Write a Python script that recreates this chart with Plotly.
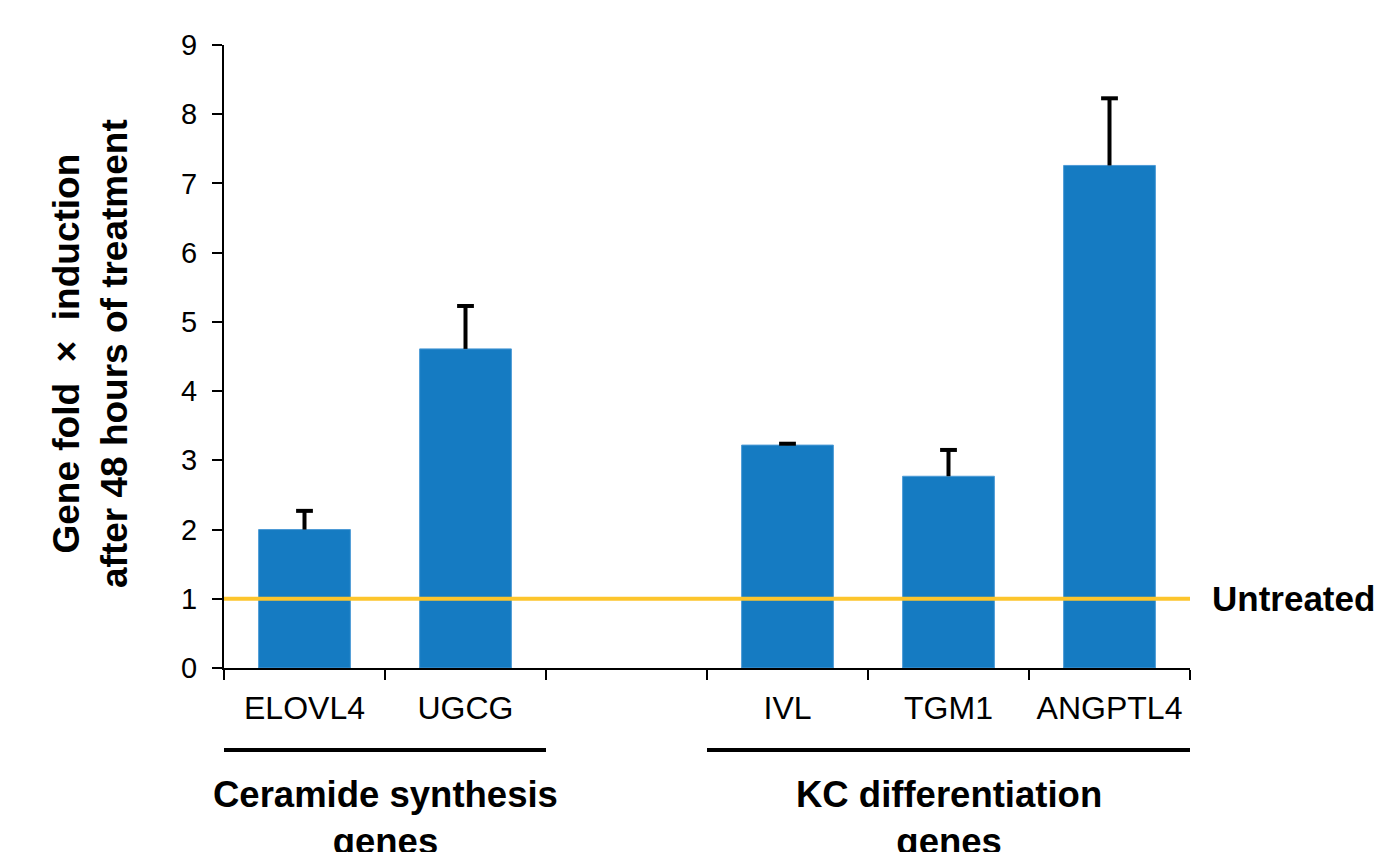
import plotly.graph_objects as go

categories = ["ELOVL4", "UGCG", " ", "IVL", "TGM1", "ANGPTL4"]
fold_values = [2.00, 4.61, None, 3.22, 2.77, 7.26]
error_plus = [0.27, 0.62, None, 0.02, 0.38, 0.97]
y_ticks = [0, 1, 2, 3, 4, 5, 6, 7, 8, 9]
untreated_level = 1
group_labels = ["Ceramide synthesis<br>genes", "KC differentiation<br>genes"]
group_spans = [(-0.5, 1.5), (2.5, 5.5)]

FONT = "Arial, 'Liberation Sans', sans-serif"
BAR = "#157bc2"

error_tops = [None if v is None else v + e for v, e in zip(fold_values, error_plus)]

fig = go.Figure()
fig.add_trace(go.Bar(
    x=categories, y=fold_values,
    width=0.57,
    marker=dict(color=BAR, line=dict(color="#4c9ad6", width=1)),
    error_y=dict(type="data", array=error_plus, symmetric=False,
                 arrayminus=[0] * len(error_plus),
                 color="black", thickness=4, width=0, visible=True),
    showlegend=False,
))
# caps on top of the error bars only
fig.add_trace(go.Scatter(
    x=categories, y=error_tops, mode="markers",
    marker=dict(symbol="line-ew", size=12, color="black",
                line=dict(color="black", width=4)),
    showlegend=False, hoverinfo="skip",
))

shapes = [dict(type="line", xref="paper", yref="y", x0=0, x1=1,
               y0=untreated_level, y1=untreated_level,
               line=dict(color="#fdc52c", width=4), layer="above")]
annotations = []
for (a, b), lab in zip(group_spans, group_labels):
    shapes.append(dict(type="line", xref="x", yref="paper", x0=a, x1=b,
                       y0=-0.1316, y1=-0.1316,
                       line=dict(color="black", width=4)))
    annotations.append(dict(text="<b>" + lab + "</b>", xref="x", yref="paper",
                            x=(a + b) / 2, y=-0.167, xanchor="center",
                            yanchor="top", showarrow=False,
                            font=dict(family=FONT, size=36.5, color="black")))
annotations.append(dict(text="<b>Untreated</b>", xref="paper", yref="y",
                        x=1.021, y=untreated_level, xanchor="left", yanchor="middle",
                        showarrow=False,
                        font=dict(family=FONT, size=35, color="black")))
annotations.append(dict(text="<b>Gene fold  \u00d7  induction<br>after 48 hours of treatment</b>",
                        xref="paper", yref="paper", x=-0.1387, y=0.504,
                        xanchor="center", yanchor="middle", textangle=-90,
                        showarrow=False,
                        font=dict(family=FONT, size=37, color="black")))

fig.update_layout(
    width=1384, height=852,
    margin=dict(l=224, r=194, t=45, b=184, autoexpand=False),
    paper_bgcolor="white", plot_bgcolor="white",
    font=dict(family=FONT, color="black"),
    shapes=shapes, annotations=annotations,
    xaxis=dict(type="category", categoryorder="array", categoryarray=categories,
               range=[-0.5, 5.5], autorange=False,
               tickson="boundaries", ticks="outside", ticklen=10, tickwidth=2,
               tickcolor="black", showline=True, linecolor="black", linewidth=2,
               showgrid=False, zeroline=False,
               tickfont=dict(family=FONT, size=32, color="black"),
               ticklabelstandoff=11),
    yaxis=dict(range=[0, 9], tickvals=y_ticks, ticks="outside", ticklen=10,
               tickwidth=2, tickcolor="black", showline=True, linecolor="black",
               linewidth=2, showgrid=False, zeroline=False,
               tickfont=dict(family=FONT, size=29, color="black"),
               ticklabelstandoff=9),
)

fig.write_html("out.html")
